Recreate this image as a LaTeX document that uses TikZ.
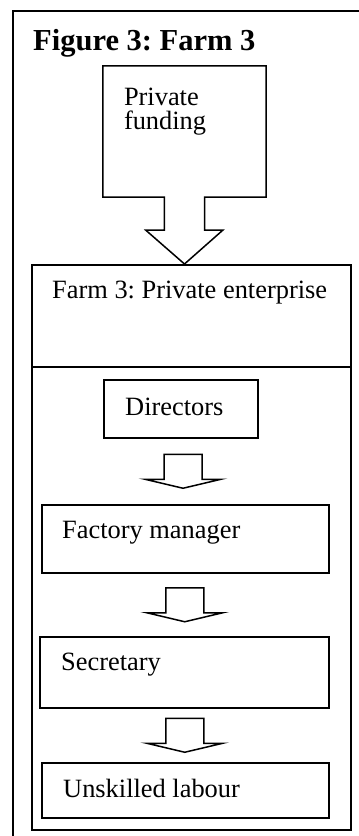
\documentclass[tikz,border=0pt]{standalone}
\usepackage{fontspec}
\setmainfont{Liberation Serif}
\usetikzlibrary{calc}
\frenchspacing

\begin{document}
\begin{tikzpicture}[
        x=1pt, y=-1pt,
        outline/.style={draw, line width=1.5pt, line join=miter},
        box/.style={rectangle, draw, line width=1.5pt, inner sep=0pt, anchor=north west},
        txt/.style={inner sep=0pt, anchor=base west, font=\fontsize{26.4}{24}\selectfont, align=left}
      ]
      \useasboundingbox (0,0) rectangle (359,836);
      % outer frame
      \draw[line width=1.4pt] (13,850) -- (13,11) -- (370,11);
      \node[txt, font=\fontsize{30.5}{30}\selectfont\bfseries] (title) at (33,50) {Figure 3: Farm 3};

      % funding block arrow
      \node[rectangle, inner sep=0pt, minimum width=163pt, minimum height=131pt] (fund) at (184.5,131.5) {};
      \node[txt] (fundtxt) at ($(fund.north west)+(21,64)$) {Private\\funding};

      % boxes
      \node[box, minimum width=319pt, minimum height=565pt] (ent) at (31,264) {};
      \node[box, minimum width=154pt, minimum height=58pt] (dir) at (103,379) {};
      \node[box, minimum width=287pt, minimum height=68pt] (fact) at (41,504) {};
      \node[box, minimum width=289pt, minimum height=71pt] (sec) at (39,636) {};
      \node[box, minimum width=287pt, minimum height=55pt] (unsk) at (41,762) {};
      \draw[line width=1.5pt] ($(ent.north west)+(0,103)$) -- ($(ent.north east)+(0,103)$);

      \node[txt] (enttxt) at ($(ent.north west)+(21,34)$) {Farm 3: Private enterprise};
      \node[txt] (dirtxt) at ($(dir.north west)+(22,36)$) {Directors};
      \node[txt] (facttxt) at ($(fact.north west)+(21,34)$) {Factory manager};
      \node[txt] (sectxt) at ($(sec.north west)+(22,34)$) {Secretary};
      \node[txt] (unsktxt) at ($(unsk.north west)+(22,35)$) {Unskilled labour};

      \draw[outline] ($(fund.south)+(20,0)$) -- (fund.south east) -- (fund.north east)
        -- (fund.north west) -- (fund.south west) -- ++(61.5,0) -- ++(0,33) -- ++(-18.5,0)
        -- (fund.south |- ent.north) -- ++(38.5,-34) -- ++(-18.5,0) -- cycle;

      % small arrows between boxes
      \foreach \a/\b in {dir/fact, fact/sec, sec/unsk} {
        \coordinate (m) at ($(\a.south)!0.5!(\b.north)$);
        \draw[outline, shift={(m)}] (-19,-17) -- (19,-17) -- (19,8) -- (38,8)
          -- (0,17) -- (-38,8) -- (-19,8) -- cycle;
      }
    \end{tikzpicture}
\end{document}
